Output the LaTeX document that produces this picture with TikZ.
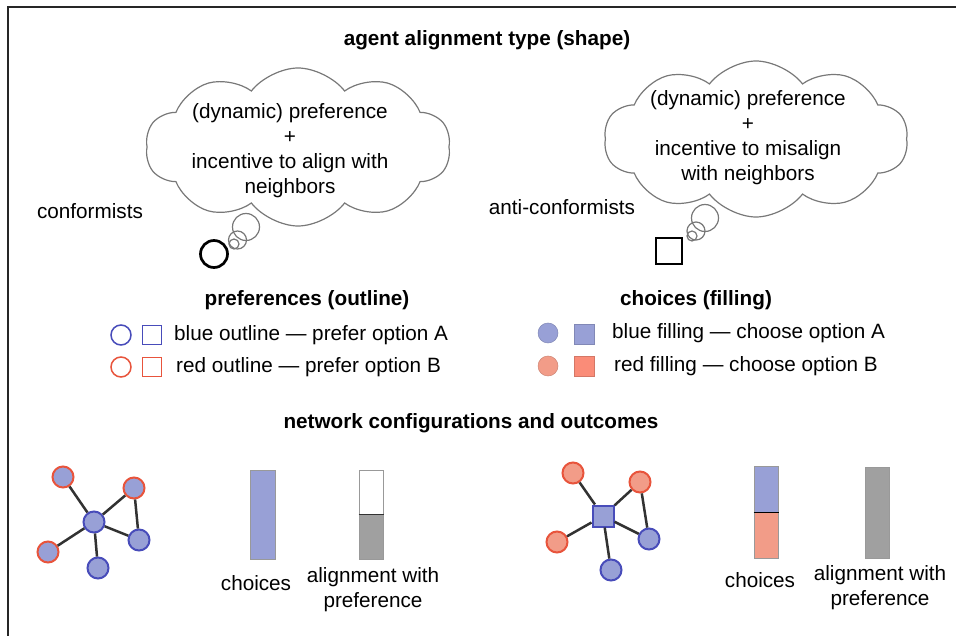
\documentclass[tikz,border=0pt]{standalone}
\usepackage{fontspec}
\setmainfont{Liberation Sans}
\usetikzlibrary{shapes.symbols,shapes.geometric}
\definecolor{bfill}{RGB}{152,160,214}
\definecolor{bline}{RGB}{72,76,186}
\definecolor{rline}{RGB}{232,84,60}
\definecolor{rfillc}{RGB}{242,156,136}
\definecolor{rfills}{RGB}{250,140,120}
\definecolor{cloudgray}{RGB}{120,120,120}
\definecolor{bargray}{RGB}{160,160,160}
\definecolor{edgegray}{RGB}{50,50,50}
\tikzset{
  txt/.style={font=\fontsize{20.7}{25}\selectfont, inner sep=0pt, align=center},
  bold/.style={font=\fontsize{20.7}{25}\selectfont\bfseries, inner sep=0pt},
  thoughtcloud/.style={cloud, cloud puffs=10, cloud puff arc=105, cloud ignores aspect, draw=cloudgray, line width=1.2pt, inner sep=0pt},
  bubble/.style={circle, draw=cloudgray, line width=1.2pt, inner sep=0pt},
  legc/.style={circle, inner sep=0pt, minimum size=20pt, line width=1.5pt},
  legs/.style={rectangle, inner sep=0pt, minimum size=19pt, line width=1.5pt},
  netc/.style={circle, inner sep=0pt, minimum size=21pt, line width=2pt},
  edge/.style={draw=edgegray, line width=2.5pt},
  barbox/.style={rectangle, inner sep=0pt, draw=gray!80, line width=1pt},
}
\begin{document}
\begin{tikzpicture}[x=1pt,y=-1pt]
\useasboundingbox (0,0) rectangle (956,636);
% frame
\draw[line width=1.6pt, draw=black!85] (956,7) -- (8,7) -- (8,636);

\node[bold] (title) at (487,40) {agent alignment type (shape)};

% left cloud
\node[thoughtcloud, minimum width=305pt, minimum height=158pt] (cloudL) at (298,147) {};
\node[txt] (cloudLtext) at (290,151) {(dynamic) preference\\+\\incentive to align with\\neighbors};
\node[bubble, minimum size=27pt] (bL1) at (246,227) {};
\node[bubble, minimum size=18pt] (bL2) at (237.5,240) {};
\node[bubble, minimum size=10pt] (bL3) at (234,244) {};
\node[circle, draw=black, line width=2.7pt, minimum size=27pt, inner sep=0pt] (conf) at (214,254) {};
\node[txt] (conftext) at (90,211) {conformists};

% right cloud
\node[thoughtcloud, minimum width=304pt, minimum height=156pt] (cloudR) at (756,139) {};
\node[txt] (cloudRtext) at (748,138) {(dynamic) preference\\+\\incentive to misalign\\with neighbors};
\node[bubble, minimum size=27pt] (bR1) at (705,218) {};
\node[bubble, minimum size=18pt] (bR2) at (696,231) {};
\node[bubble, minimum size=10pt] (bR3) at (692,236) {};
\node[rectangle, draw=black, line width=2.7pt, minimum size=26pt, inner sep=0pt] (anti) at (669,251) {};
\node[txt] (antitext) at (562,207) {anti-conformists};

% preferences legend
\node[bold] (preftitle) at (307,300) {preferences (outline)};
\node[legc, draw=bline] (pbc) at (121,335) {};
\node[legs, draw=bline] (pbs) at (152,335) {};
\node[txt, anchor=west] (pbt) at (174,335) {blue outline --- prefer option A};
\node[legc, draw=rline] (prc) at (121,367) {};
\node[legs, draw=rline] (prs) at (152,367) {};
\node[txt, anchor=west] (prt) at (176,367) {red outline --- prefer option B};

% choices legend
\node[bold] (choicetitle) at (696,300) {choices (filling)};
\node[legc, fill=bfill, draw=bfill!85!black, line width=0.5pt] (cbc) at (548,333) {};
\node[legs, fill=bfill, draw=bfill!85!black, line width=0.5pt, minimum size=20pt] (cbs) at (584,334) {};
\node[txt, anchor=west] (cbt) at (612,333) {blue filling --- choose option A};
\node[legc, fill=rfillc, draw=rfillc!85!black, line width=0.5pt] (crc) at (548,366) {};
\node[legs, fill=rfills, draw=rfills!85!black, line width=0.5pt, minimum size=20pt] (crs) at (584,366) {};
\node[txt, anchor=west] (crt) at (614,366) {red filling --- choose option B};

\node[bold] (nettitle) at (471,423) {network configurations and outcomes};

% network 1
\node[netc, fill=bfill, draw=bline] (n1c) at (94,522) {};
\node[netc, fill=bfill, draw=rline] (n1tl) at (63,477) {};
\node[netc, fill=bfill, draw=rline] (n1tr) at (134,488) {};
\node[netc, fill=bfill, draw=bline] (n1r) at (139,540) {};
\node[netc, fill=bfill, draw=bline] (n1b) at (98,568) {};
\node[netc, fill=bfill, draw=rline] (n1l) at (48,552) {};
\draw[edge] (n1c) -- (n1tl);
\draw[edge] (n1c) -- (n1tr);
\draw[edge] (n1c) -- (n1r);
\draw[edge] (n1c) -- (n1b);
\draw[edge] (n1c) -- (n1l);
\draw[edge] (n1tr) -- (n1r);

% bars 1
\node[barbox, fill=bfill, minimum width=25pt, minimum height=89pt] (bar1) at (262.5,514.5) {};
\node[barbox, fill=white, minimum width=24pt, minimum height=44pt] (bar2top) at (371,492) {};
\node[barbox, fill=bargray, minimum width=24pt, minimum height=45pt] (bar2bot) at (371,536.5) {};
\draw[line width=1pt, draw=edgegray] (bar2top.south west) -- (bar2top.south east);
\node[txt] (ch1) at (256,583) {choices};
\node[txt] (al1) at (373,590) {alignment with\\preference};

% network 2
\node[rectangle, inner sep=0pt, minimum size=21pt, line width=2pt, fill=bfill, draw=bline] (n2c) at (603,516) {};
\node[netc, fill=rfillc, draw=rline] (n2tl) at (573,473) {};
\node[netc, fill=rfillc, draw=rline] (n2tr) at (640,482) {};
\node[netc, fill=bfill, draw=bline] (n2r) at (649,539) {};
\node[netc, fill=bfill, draw=bline] (n2b) at (611,570) {};
\node[netc, fill=rfillc, draw=rline] (n2l) at (557,542) {};
\draw[edge] (n2c) -- (n2tl);
\draw[edge] (n2c) -- (n2tr);
\draw[edge] (n2c) -- (n2r);
\draw[edge] (n2c) -- (n2b);
\draw[edge] (n2c) -- (n2l);
\draw[edge] (n2tr) -- (n2r);

% bars 2
\node[barbox, fill=bfill, minimum width=24pt, minimum height=46pt] (bar3top) at (766,489) {};
\node[barbox, fill=rfillc, minimum width=24pt, minimum height=46pt] (bar3bot) at (766,535) {};
\draw[line width=1pt, draw=black] (bar3top.south west) -- (bar3top.south east);
\node[barbox, fill=bargray, minimum width=24pt, minimum height=91pt] (bar4) at (877,512.5) {};
\node[txt] (ch2) at (760,580) {choices};
\node[txt] (al2) at (880,588) {alignment with\\preference};
\end{tikzpicture}
\end{document}
